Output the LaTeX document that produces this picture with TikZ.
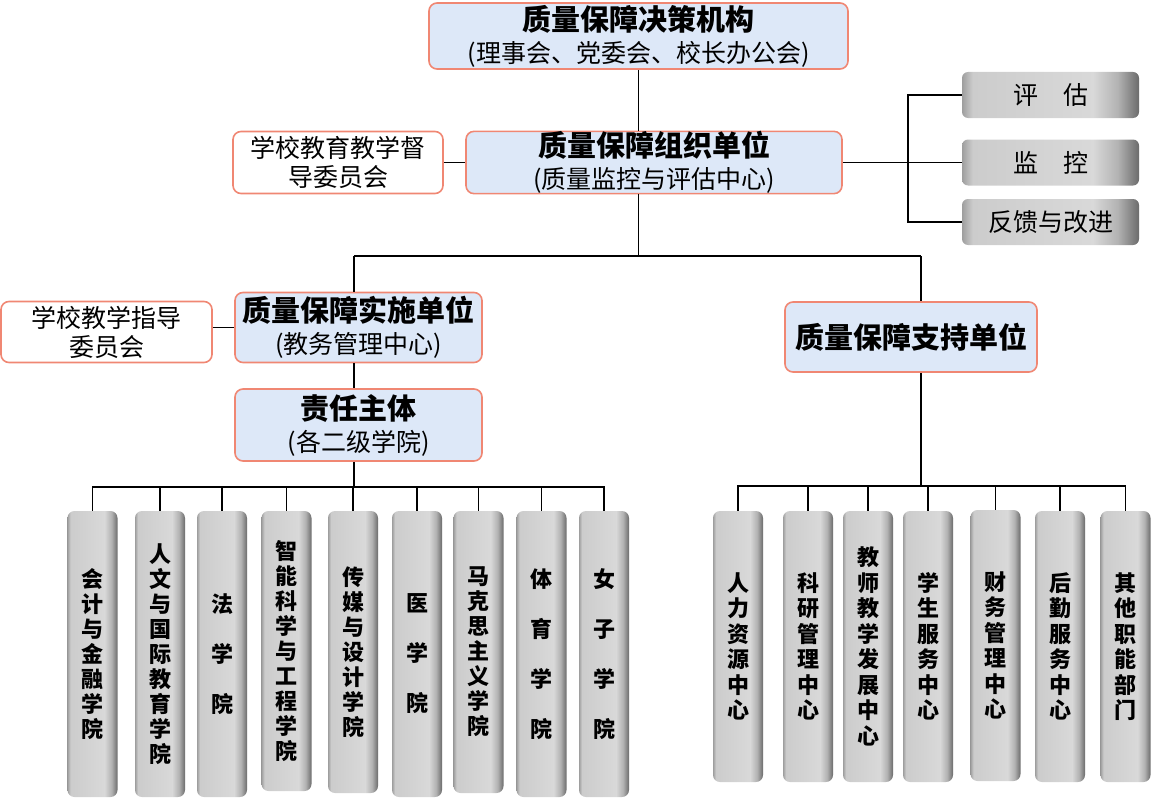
\documentclass[tikz,border=0pt]{standalone}
\usepackage{fontspec}
\setmainfont{Noto Sans CJK SC}
\usetikzlibrary{shadings}
\definecolor{boxline}{RGB}{240,135,115}
\definecolor{boxfill}{RGB}{221,232,248}
\pgfdeclarehorizontalshading{barshade}{100bp}{color(0bp)=(black!40);
  color(25bp)=(black!38); color(28bp)=(black!20); color(62bp)=(black!15);
  color(69bp)=(black!30); color(75bp)=(black!58); color(100bp)=(black!58)}
\newcommand{\unittitle}{\bfseries\fontsize{29}{32}\selectfont}

\begin{document}
\begin{tikzpicture}[x=1pt,y=-1pt,every node/.style={inner sep=0pt},
            wire/.style={line width=1.6pt},
            unitbox/.style={draw=boxline,line width=1.6pt,fill=boxfill,
              rounded corners=8pt,align=center,font=\fontsize{25}{32}\selectfont},
            sidebox/.style={unitbox,fill=white,font=\fontsize{25}{29}\selectfont},
            grayitem/.style={shading=barshade,rounded corners=6pt,minimum width=177pt,
              minimum height=46pt,font=\fontsize{25}{29}\selectfont},
            colbar/.style={shading=barshade,rounded corners=7pt,minimum width=50pt,
              align=center,font=\bfseries\fontsize{22}{25}\selectfont}]
            \useasboundingbox (0,0) rectangle (1152,800);
            % upper levels
            \node[unitbox,minimum width=419pt,minimum height=66pt](decide)at(638.5,36)
              {{\unittitle 质量保障决策机构}\\(理事会、党委会、校长办公会)};
            \node[unitbox,minimum width=376pt,minimum height=61pt](org)at(654,162.5)
              {{\unittitle 质量保障组织单位}\\(质量监控与评估中心)};
            \node[sidebox,minimum width=210pt,minimum height=62pt](supv)at(338,162.5)
              {学校教育教学督\\导委员会};
            \node[grayitem](eval)at(1050.5,95){评\quad 估};
            \node[grayitem](mon)at(1050.5,162.5){监\quad 控};
            \node[grayitem](fb)at(1050.5,222){反馈与改进};
            \node[unitbox,minimum width=247pt,minimum height=70pt](impl)at(358.5,327.5)
              {{\unittitle 质量保障实施单位}\\(教务管理中心)};
            \node[sidebox,minimum width=211pt,minimum height=61pt](tguide)at(106.5,332)
              {学校教学指导\\委员会};
            \node[unitbox,minimum width=247pt,minimum height=72pt](resp)at(358.5,425)
              {{\unittitle 责任主体}\\(各二级学院)};
            \node[unitbox,minimum width=252pt,minimum height=70pt,font=\unittitle]
              (supp)at(911,337){质量保障支持单位};
            % colleges
            \node[colbar,minimum height=286pt](acct)at(92.5,654){会\\计\\与\\金\\融\\学\\院};
            \node[colbar,minimum height=286pt](hum)at(160,654){人\\文\\与\\国\\际\\教\\育\\学\\院};
            \node[colbar,minimum height=286pt](law)at(222,654){法\\[25pt]学\\[25pt]院};
            \node[colbar,minimum height=280pt](ai)at(286.5,651){智\\能\\科\\学\\与\\工\\程\\学\\院};
            \node[colbar,minimum height=282pt](media)at(353,652){传\\媒\\与\\设\\计\\学\\院};
            \node[colbar,minimum height=286pt](med)at(417,654){医\\[25pt]学\\[25pt]院};
            \node[colbar,minimum height=282pt](marx)at(478.5,652){马\\克\\思\\主\\义\\学\\院};
            \node[colbar,minimum height=286pt](sport)at(541.5,654){体\\[25pt]育\\[25pt]学\\[25pt]院};
            \node[colbar,minimum height=286pt](women)at(604,654){女\\[25pt]子\\[25pt]学\\[25pt]院};
            % support offices
            \node[colbar,minimum height=271pt,font=\bfseries\fontsize{22}{25.5}\selectfont]
              (hr)at(738,646.5){人\\力\\资\\源\\中\\心};
            \node[colbar,minimum height=271pt,font=\bfseries\fontsize{22}{25.5}\selectfont]
              (res)at(808,646.5){科\\研\\管\\理\\中\\心};
            \node[colbar,minimum height=271pt,font=\bfseries\fontsize{22}{25.5}\selectfont]
              (fac)at(868,646.5){教\\师\\教\\学\\发\\展\\中\\心};
            \node[colbar,minimum height=271pt,font=\bfseries\fontsize{22}{25.5}\selectfont]
              (stu)at(928,646.5){学\\生\\服\\务\\中\\心};
            \node[colbar,minimum height=271pt,font=\bfseries\fontsize{22}{25.5}\selectfont]
              (fin)at(995.5,645.5){财\\务\\管\\理\\中\\心};
            \node[colbar,minimum height=271pt,font=\bfseries\fontsize{22}{25.5}\selectfont]
              (logi)at(1060,646.5){后\\勤\\服\\务\\中\\心};
            \node[colbar,minimum height=271pt,font=\bfseries\fontsize{22}{25.5}\selectfont]
              (other)at(1125.5,646.5){其\\他\\职\\能\\部\\门};
            % connectors
            \coordinate(lhub)at(354,256);\coordinate(rhub)at(921,256);
            \coordinate(cbus)at(354,487);\coordinate(sbus)at(921,486);
            \draw[wire](decide.south)--(decide.south|-org.north);
            \draw[wire](supv.east)--(supv.east-|org.west);
            \draw[wire](org.east)--(mon.west);
            \draw[wire](eval.west)--++(-54,0)|-(fb.west);
            \draw[wire](decide.south|-org.south)--(decide.south|-lhub);
            \draw[wire](lhub)--(rhub);
            \draw[wire](lhub)--(lhub|-impl.north);
            \draw[wire](rhub)--(rhub|-supp.north);
            \draw[wire](tguide.east|-impl.west)--(impl.west);
            \draw[wire](lhub|-impl.south)--(lhub|-resp.north);
            \draw[wire](lhub|-resp.south)--(cbus);
            \draw[wire](acct.north)--(acct.north|-cbus)--(women.north|-cbus)--(women.north);
            \draw[wire](hum.north)--(hum.north|-cbus);
            \draw[wire](law.north)--(law.north|-cbus);
            \draw[wire](ai.north)--(ai.north|-cbus);
            \draw[wire](media.north)--(media.north|-cbus);
            \draw[wire](med.north)--(med.north|-cbus);
            \draw[wire](marx.north)--(marx.north|-cbus);
            \draw[wire](sport.north)--(sport.north|-cbus);
            \draw[wire](rhub|-supp.south)--(sbus);
            \draw[wire](hr.north)--(hr.north|-sbus)--(other.north|-sbus)--(other.north);
            \draw[wire](res.north)--(res.north|-sbus);
            \draw[wire](fac.north)--(fac.north|-sbus);
            \draw[wire](stu.north)--(stu.north|-sbus);
            \draw[wire](fin.north)--(fin.north|-sbus);
            \draw[wire](logi.north)--(logi.north|-sbus);
        \end{tikzpicture}
\end{document}
